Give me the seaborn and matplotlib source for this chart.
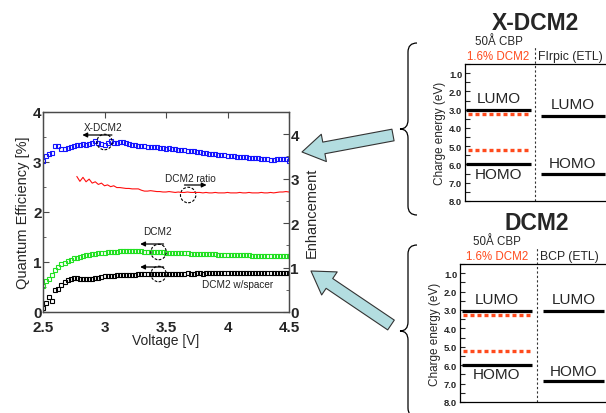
import matplotlib
matplotlib.use("Agg")
import matplotlib.pyplot as plt
import seaborn as sns
from matplotlib.patches import Ellipse, FancyArrowPatch, PathPatch
from matplotlib.path import Path
from matplotlib.ticker import MultipleLocator

# === Data: quantum efficiency vs voltage ===
voltage = [2.500, 2.525, 2.550, 2.575, 2.600, 2.625, 2.650, 2.675, 2.700, 2.725,
           2.750, 2.775, 2.800, 2.825, 2.850, 2.875, 2.900, 2.925, 2.950, 2.975,
           3.000, 3.025, 3.050, 3.075, 3.100, 3.125, 3.150, 3.175, 3.200, 3.225,
           3.250, 3.275, 3.300, 3.325, 3.350, 3.375, 3.400, 3.425, 3.450, 3.475,
           3.500, 3.525, 3.550, 3.575, 3.600, 3.625, 3.650, 3.675, 3.700, 3.725,
           3.750, 3.775, 3.800, 3.825, 3.850, 3.875, 3.900, 3.925, 3.950, 3.975,
           4.000, 4.025, 4.050, 4.075, 4.100, 4.125, 4.150, 4.175, 4.200, 4.225,
           4.250, 4.275, 4.300, 4.325, 4.350, 4.375, 4.400, 4.425, 4.450, 4.475,
           4.500]

xdcm2_qe = [3.02, 3.12, 3.17, 3.19, 3.33, 3.33, 3.26, 3.27, 3.28, 3.30,
            3.33, 3.34, 3.35, 3.36, 3.35, 3.37, 3.38, 3.42, 3.38, 3.36,
            3.34, 3.39, 3.42, 3.39, 3.38, 3.40, 3.41, 3.38, 3.36, 3.35,
            3.34, 3.33, 3.33, 3.32, 3.31, 3.31, 3.30, 3.30, 3.29, 3.28,
            3.27, 3.28, 3.27, 3.26, 3.25, 3.25, 3.24, 3.23, 3.22, 3.22,
            3.21, 3.20, 3.19, 3.18, 3.17, 3.16, 3.16, 3.15, 3.14, 3.14,
            3.13, 3.12, 3.12, 3.11, 3.11, 3.10, 3.10, 3.09, 3.09, 3.08,
            3.08, 3.07, 3.07, 3.06, 3.05, 3.05, 3.06, 3.06, 3.06, 3.06,
            3.02]

dcm2_qe = [0.52, 0.62, 0.66, 0.74, 0.85, 0.90, 0.96, 0.99, 1.02, 1.05,
           1.08, 1.09, 1.10, 1.12, 1.14, 1.15, 1.16, 1.17, 1.18, 1.19,
           1.19, 1.20, 1.20, 1.21, 1.21, 1.22, 1.22, 1.22, 1.23, 1.23,
           1.22, 1.22, 1.22, 1.21, 1.21, 1.21, 1.21, 1.20, 1.20, 1.20,
           1.19, 1.19, 1.19, 1.19, 1.18, 1.18, 1.18, 1.18, 1.17, 1.17,
           1.17, 1.17, 1.16, 1.16, 1.16, 1.16, 1.16, 1.15, 1.15, 1.15,
           1.15, 1.15, 1.14, 1.14, 1.14, 1.14, 1.14, 1.14, 1.13, 1.13,
           1.13, 1.13, 1.13, 1.13, 1.12, 1.12, 1.12, 1.12, 1.12, 1.12,
           1.12]

spacer_qe = [0.08, 0.18, 0.30, 0.22, 0.44, 0.46, 0.54, 0.60, 0.64, 0.66,
             0.68, 0.69, 0.67, 0.66, 0.66, 0.67, 0.67, 0.68, 0.69, 0.71,
             0.72, 0.73, 0.73, 0.73, 0.74, 0.74, 0.74, 0.75, 0.75, 0.75,
             0.75, 0.76, 0.76, 0.76, 0.76, 0.76, 0.76, 0.76, 0.77, 0.77,
             0.76, 0.77, 0.77, 0.77, 0.77, 0.77, 0.77, 0.78, 0.77, 0.77,
             0.78, 0.78, 0.77, 0.78, 0.78, 0.78, 0.78, 0.78, 0.78, 0.78,
             0.78, 0.79, 0.78, 0.78, 0.79, 0.79, 0.78, 0.79, 0.79, 0.79,
             0.79, 0.79, 0.79, 0.79, 0.79, 0.79, 0.79, 0.79, 0.79, 0.79,
             0.79]

# === Data: DCM2 enhancement ratio (right axis) ===
ratio_voltage = [2.775, 2.800, 2.825, 2.850, 2.875, 2.900, 2.925, 2.950, 2.975, 3.000,
                 3.025, 3.050, 3.075, 3.100, 3.125, 3.150, 3.175, 3.200, 3.225, 3.250,
                 3.275, 3.300, 3.325, 3.350, 3.375, 3.400, 3.425, 3.450, 3.475, 3.500,
                 3.525, 3.550, 3.575, 3.600, 3.625, 3.650, 3.675, 3.700, 3.725, 3.750,
                 3.775, 3.800, 3.825, 3.850, 3.875, 3.900, 3.925, 3.950, 3.975, 4.000,
                 4.025, 4.050, 4.075, 4.100, 4.125, 4.150, 4.175, 4.200, 4.225, 4.250,
                 4.275, 4.300, 4.325, 4.350, 4.375, 4.400, 4.425, 4.450, 4.475, 4.500]
dcm2_ratio = [3.05, 2.94, 3.03, 2.93, 2.99, 2.90, 2.93, 2.87, 2.90, 2.84,
              2.86, 2.82, 2.84, 2.80, 2.80, 2.79, 2.78, 2.78, 2.77, 2.77,
              2.77, 2.74, 2.72, 2.72, 2.73, 2.72, 2.71, 2.71, 2.70, 2.70,
              2.71, 2.70, 2.69, 2.70, 2.69, 2.69, 2.70, 2.69, 2.69, 2.69,
              2.69, 2.68, 2.69, 2.68, 2.68, 2.69, 2.68, 2.68, 2.68, 2.69,
              2.68, 2.68, 2.68, 2.69, 2.68, 2.68, 2.69, 2.68, 2.68, 2.68,
              2.69, 2.68, 2.68, 2.69, 2.68, 2.69, 2.70, 2.70, 2.71, 2.70]

# === Data: energy level diagrams (eV) ===
energy_ticks = [1.0, 2.0, 3.0, 4.0, 5.0, 6.0, 7.0, 8.0]
xdcm2_host = [3.0, 6.0]
xdcm2_dopant = [3.25, 5.2]
xdcm2_etl = [3.35, 6.5]
dcm2_host = [3.05, 6.0]
dcm2_dopant = [3.28, 5.22]
dcm2_etl = [3.05, 6.85]

# === Style ===
sns.set_style("white")
plt.rcParams["font.family"] = ["Liberation Sans", "DejaVu Sans"]
RED = "#ff4a1c"
SPINE = "#4a4a4a"

fig = plt.figure(figsize=(6.06, 4.14), dpi=100)

def fx(px):
    return px / 606

def fy(py):
    return 1 - py / 414

# === Main QE plot ===
ax = fig.add_axes([fx(43), fy(313), fx(289) - fx(43), fy(113) - fy(313)])
sns.lineplot(x=voltage, y=xdcm2_qe, ax=ax, marker="s", linestyle="", ms=3.1,
             mfc="none", mec="#1414ff", mew=0.8)
sns.lineplot(x=voltage, y=dcm2_qe, ax=ax, marker="s", linestyle="", ms=3.1,
             mfc="none", mec="#22e022", mew=0.8)
sns.lineplot(x=voltage, y=spacer_qe, ax=ax, marker="s", linestyle="", ms=3.1,
             mfc="none", mec="black", mew=0.8)

ax.set_xlim(2.5, 4.5)
ax.set_ylim(0, 4)
ax.set_xticks([2.5, 3, 3.5, 4, 4.5])
ax.set_xticklabels(["2.5", "3", "3.5", "4", "4.5"])
ax.set_yticks([0, 1, 2, 3, 4])
ax.yaxis.set_minor_locator(MultipleLocator(0.5))
ax.tick_params(axis="both", which="both", direction="in", top=True, right=False,
               color=SPINE, labelsize=11, pad=1)
ax.tick_params(axis="x", pad=6)
ax.tick_params(which="major", length=4)
ax.tick_params(which="minor", length=2.5)
for lab in ax.get_xticklabels() + ax.get_yticklabels():
    lab.set_fontweight("bold")
for lab in ax.get_yticklabels():
    lab.set_verticalalignment("center_baseline")
ax.set_xlabel("Voltage [V]", fontsize=10, labelpad=-1)
ax.set_ylabel("Quantum Efficiency [%]", fontsize=10.5, labelpad=2)

ax2 = ax.twinx()
sns.lineplot(x=ratio_voltage, y=dcm2_ratio, ax=ax2, color="#ff1010", lw=0.8)
ax2.set_ylim(0, 4.5)
ax2.set_yticks([0, 1, 2, 3, 4])
ax2.yaxis.set_minor_locator(MultipleLocator(0.5))
ax2.tick_params(axis="y", which="both", direction="in", color=SPINE, labelsize=11, pad=1)
ax2.tick_params(which="major", length=4)
ax2.tick_params(which="minor", length=2.5)
for lab in ax2.get_yticklabels():
    lab.set_fontweight("bold")
    lab.set_verticalalignment("center_baseline")
ax2.set_ylabel("Enhancement", fontsize=10.5, labelpad=4)
for a in (ax, ax2):
    for sp in a.spines.values():
        sp.set_color(SPINE)
        sp.set_linewidth(0.9)

# Annotations: labels, direction arrows and dashed circles
notes = [
    ("X-DCM2", 2.99, 3.70, 3.06, 2.82, 3.54, 3.0, 3.40),
    ("DCM2 ratio", 3.70, 2.68, 3.65, 3.83, 2.54, 3.68, 2.34),
    ("DCM2", 3.43, 1.62, 3.48, 3.29, 1.36, 3.44, 1.20),
    ("DCM2 w/spacer", 4.08, 0.56, 3.48, 3.29, 0.90, 3.44, 0.76),
]
for text, tx, ty, ax0, ax1, ay, cx, cy in notes:
    ax.text(tx, ty, text, fontsize=7.2, ha="center", va="center", color="#222222")
    ax.annotate("", xy=(ax1, ay), xytext=(ax0, ay),
                arrowprops=dict(arrowstyle="-|>", color="black", lw=0.9,
                                mutation_scale=7, shrinkA=0, shrinkB=0))
    ax.add_patch(Ellipse((cx, cy), 0.125, 0.31, fill=False, ls=(0, (2.5, 1.5)),
                         lw=0.8, ec="black", zorder=5))

# === Energy level diagrams ===
def draw_diagram(left_px, top_px, bottom_px, div_frac, host, dopant, etl,
                 title, title_xy, etl_name, lumo_pos, homo_pos):
    width_px = 612 - left_px
    d = fig.add_axes([fx(left_px), fy(bottom_px), width_px / 606,
                      (bottom_px - top_px) / 414])
    d.set_xlim(0, 1)
    d.set_ylim(8, 0.5)
    d.set_xticks([])
    d.set_yticks(energy_ticks)
    d.set_yticklabels([f"{v:.1f}" for v in energy_ticks])
    d.yaxis.set_minor_locator(MultipleLocator(0.5))
    d.tick_params(axis="y", which="both", direction="in", length=3.5, width=0.8,
                  labelsize=6.8, pad=2, left=True)
    for lab in d.get_yticklabels():
        lab.set_fontweight("bold")
    for sp in d.spines.values():
        sp.set_color("black")
        sp.set_linewidth(0.9)
    d.set_ylabel("Charge energy (eV)", fontsize=8.5, labelpad=2)

    lx0, lx1 = 0.01, div_frac - 0.03
    rx0, rx1 = div_frac + 0.04, 0.95
    d.hlines(host, lx0, lx1, color="black", lw=2.3)
    d.hlines(dopant, lx0 + 0.01, lx1, color=RED, lw=2.4, linestyles=[(0, (1.2, 0.9))])
    d.hlines(etl, rx0, rx1, color="black", lw=2.3)
    d.axvline(div_frac, ymin=0, ymax=1.125, clip_on=False, color="#333333",
              lw=0.8, ls=(0, (2, 2)))

    lc = (lx0 + lx1) / 2
    rc = (rx0 + rx1) / 2
    d.text(lc, lumo_pos[0], "LUMO", fontsize=11, ha="center", va="center")
    d.text(lc, homo_pos[0], "HOMO", fontsize=11, ha="center", va="center")
    d.text(rc, lumo_pos[1], "LUMO", fontsize=11, ha="center", va="center")
    d.text(rc, homo_pos[1], "HOMO", fontsize=11, ha="center", va="center")

    d.text(lc, 1.165, "50Å CBP", transform=d.transAxes, fontsize=8.3,
           ha="center", va="center", clip_on=False)
    d.text(lc, 1.055, "1.6% DCM2", transform=d.transAxes, fontsize=8.3,
           ha="center", va="center", color=RED, clip_on=False)
    d.text(div_frac + 0.02, 1.055, etl_name, transform=d.transAxes, fontsize=8.8,
           ha="left", va="center", clip_on=False)
    fig.text(fx(title_xy[0]), fy(title_xy[1]), title, fontsize=16.5,
             fontweight="bold", ha="center", va="center")
    return d

draw_diagram(465, 65, 202, 0.476, xdcm2_host, xdcm2_dopant, xdcm2_etl,
             "X-DCM2", (535, 23), "FIrpic (ETL)", (2.35, 2.7), (6.5, 5.9))
draw_diagram(460, 265, 403, 0.505, dcm2_host, dcm2_dopant, dcm2_etl,
             "DCM2", (537, 224), "BCP (ETL)", (2.4, 2.4), (6.5, 6.3))

# === Braces ===
def brace(x_right, x_mid, x_tip, y_top, y_mid, y_bot):
    r = 9
    pts = [(x_right, y_top), (x_mid, y_top), (x_mid, y_top + r),
           (x_mid, y_mid - r), (x_mid, y_mid), (x_tip, y_mid),
           (x_mid, y_mid), (x_mid, y_mid + r),
           (x_mid, y_bot - r), (x_mid, y_bot), (x_right, y_bot)]
    codes = [Path.MOVETO, Path.CURVE3, Path.CURVE3,
             Path.LINETO, Path.CURVE3, Path.CURVE3,
             Path.CURVE3, Path.CURVE3,
             Path.LINETO, Path.CURVE3, Path.CURVE3]
    verts = [(fx(x), fy(y)) for x, y in pts]
    fig.add_artist(PathPatch(Path(verts, codes), transform=fig.transFigure,
                             fill=False, lw=0.9, ec="black"))

brace(417, 408, 400, 44, 130, 216)
brace(417, 408, 400, 246, 332, 418)

# === Big pointer arrows ===
for tail, tip in [((393, 136), (302, 153)), ((391, 326), (311, 272))]:
    fig.add_artist(FancyArrowPatch(
        (fx(tail[0]), fy(tail[1])), (fx(tip[0]), fy(tip[1])),
        transform=fig.transFigure,
        arrowstyle="simple,head_length=16,head_width=20,tail_width=8.5",
        mutation_scale=1, fc="#b3dde0", ec="#333333", lw=0.8,
        shrinkA=0, shrinkB=0))

fig.savefig("out.png", dpi=100)
